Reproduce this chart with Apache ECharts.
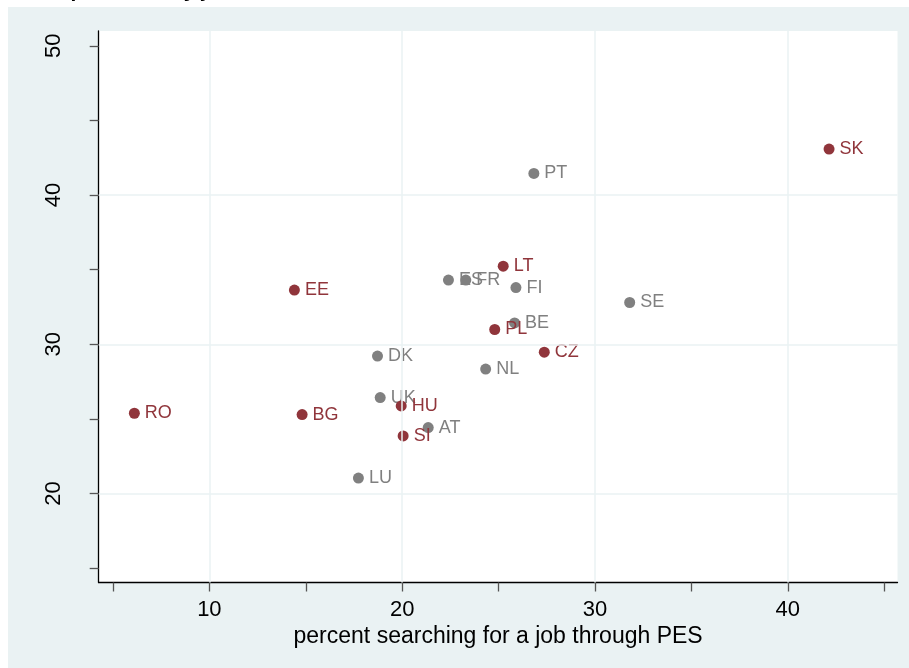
<!DOCTYPE html>
<html>
<head>
<meta charset="utf-8">
<script src="https://cdn.jsdelivr.net/npm/echarts@6/dist/echarts.min.js"></script>
<style>
  html, body { margin: 0; padding: 0; background: #ffffff; }
  #chart { width: 909px; height: 668px; }
</style>
</head>
<body>
<div id="chart"></div>
<script>
// Heading of the figure (mostly above the visible frame)
const headingText = 'Respondents by job search';

// New member states (maroon markers)
const redCountries = ['SK', 'LT', 'EE', 'PL', 'CZ', 'HU', 'RO', 'BG', 'SI'];
const redPES = [42.14, 25.24, 14.41, 24.80, 27.37, 19.95, 6.11, 14.81, 20.05];
const redValue = [43.08, 35.23, 33.63, 30.99, 29.47, 25.87, 25.38, 25.29, 23.86];

// Other member states (gray markers)
const grayCountries = ['PT', 'ES', 'FR', 'FI', 'SE', 'BE', 'DK', 'NL', 'UK', 'AT', 'LU'];
const grayPES = [26.83, 22.40, 23.30, 25.90, 31.80, 25.83, 18.72, 24.33, 18.86, 21.35, 17.73];
const grayValue = [41.45, 34.30, 34.30, 33.80, 32.80, 31.43, 29.21, 28.34, 26.43, 24.42, 21.04];

// Axis ticks and labels
const xTicks = [5, 10, 15, 20, 25, 30, 35, 40, 45];
const xLabels = [10, 20, 30, 40];
const yTicks = [15, 20, 25, 30, 35, 40, 45, 50];
const yLabels = [20, 30, 40, 50];
const xGrid = [10, 20, 30, 40];
const yGrid = [20, 30, 40];
const xTitle = 'percent searching for a job through PES';

const RED = '#90353B';
const GRAY = '#808080';
const GRIDC = '#EAF2F3';
const FONT = '"Liberation Sans", Arial, Helvetica, sans-serif';

function points(xs, ys, names) {
  return xs.map((x, i) => ({ value: [x, ys[i]], name: names[i] }));
}

const chart = echarts.init(document.getElementById('chart'), null, { renderer: 'canvas' });

chart.setOption({
  animation: false,
  backgroundColor: '#EAF2F3',
  textStyle: { fontFamily: FONT },
  graphic: [
    { type: 'rect', z: -100, shape: { x: 0, y: 0, width: 909, height: 7 }, style: { fill: '#ffffff' } },
    { type: 'rect', z: -100, shape: { x: 0, y: 0, width: 8, height: 668 }, style: { fill: '#ffffff' } },
    {
      type: 'text', z: 100, x: 32, y: 2,
      style: {
        text: headingText, fill: '#000000',
        font: 'bold 21px ' + FONT,
        verticalAlign: 'bottom', align: 'left'
      }
    }
  ],
  grid: {
    left: 98.7, right: 11.5, top: 31, bottom: 85.5,
    show: true, backgroundColor: '#ffffff', borderWidth: 0
  },
  xAxis: {
    type: 'value', min: 4.26, max: 45.69,
    name: xTitle, nameLocation: 'middle', nameGap: 39,
    nameTextStyle: { color: '#000000', fontSize: 23, fontFamily: FONT },
    axisLine: { show: true, onZero: false, lineStyle: { color: '#000000', width: 1.3 } },
    axisTick: { show: true, length: 9, customValues: xTicks, lineStyle: { color: '#555555', width: 1.3 } },
    axisLabel: { show: true, customValues: xLabels, margin: 16, color: '#000000', fontSize: 22, fontFamily: FONT },
    splitLine: { show: false }
  },
  yAxis: {
    type: 'value', min: 14.04, max: 50.99,
    axisLine: { show: true, onZero: false, lineStyle: { color: '#000000', width: 1.3 } },
    axisTick: { show: true, length: 9, customValues: yTicks, lineStyle: { color: '#555555', width: 1.3 } },
    axisLabel: { show: true, customValues: yLabels, rotate: 90, margin: 34, color: '#000000', fontSize: 22, fontFamily: FONT },
    splitLine: { show: false }
  },
  series: [
    {
      // reference grid lines
      type: 'scatter', data: [], silent: true, z: 1,
      markLine: {
        silent: true, symbol: ['none', 'none'], animation: false,
        label: { show: false },
        lineStyle: { color: GRIDC, width: 1.5, type: 'solid', opacity: 1 },
        emphasis: { disabled: true },
        data: xGrid.map(v => ({ xAxis: v })).concat(yGrid.map(v => ({ yAxis: v })))
      }
    },
    {
      type: 'scatter', z: 3, symbol: 'circle', symbolSize: 11,
      itemStyle: { color: GRAY, opacity: 1 },
      data: points(grayPES, grayValue, grayCountries),
      label: {
        show: true, position: 'right', distance: 5,
        formatter: p => p.name, color: GRAY, fontSize: 18, fontFamily: FONT
      }
    },
    {
      type: 'scatter', z: 4, symbol: 'circle', symbolSize: 11,
      itemStyle: { color: RED, opacity: 1 },
      data: points(redPES, redValue, redCountries),
      label: {
        show: true, position: 'right', distance: 5,
        formatter: p => p.name, color: RED, fontSize: 18, fontFamily: FONT
      }
    }
  ]
});
</script>
</body>
</html>
